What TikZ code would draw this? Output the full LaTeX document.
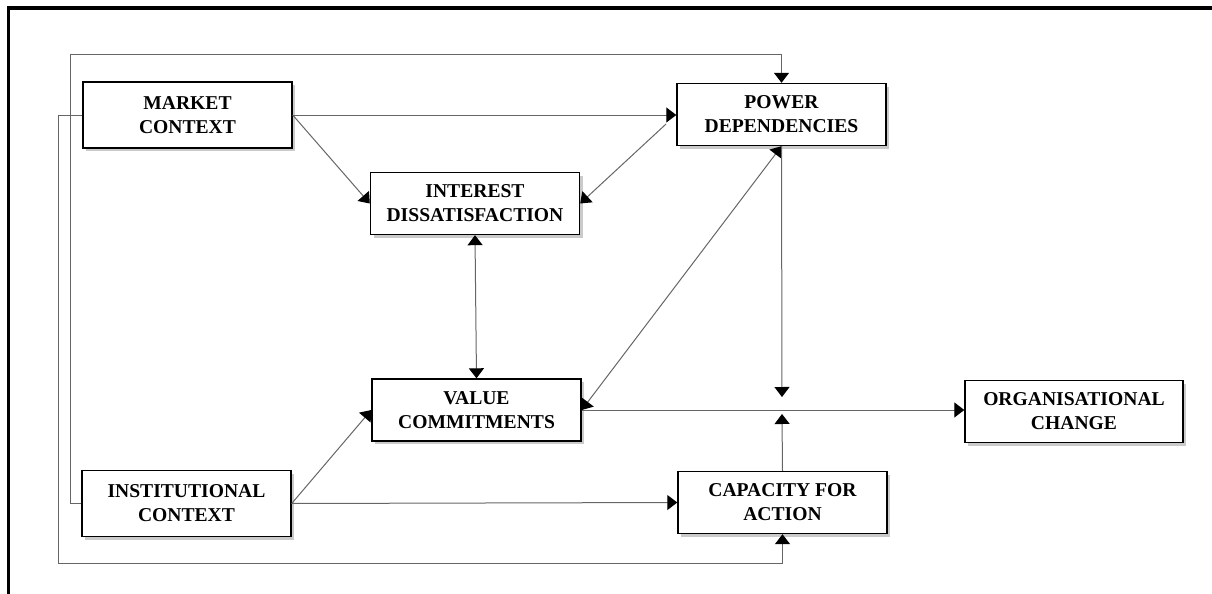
\documentclass[tikz,border=0pt]{standalone}
\usepackage{fontspec}
\setmainfont{Liberation Serif}
\usetikzlibrary{arrows.meta, shadows}
\tikzset{>={Triangle[length=5pt, width=7.5pt, color=black]}, factor/.style={draw, line width=.7pt, fill=white, align=center, minimum width=104.5pt, minimum height=31pt, inner sep=2pt, font=\bfseries\fontsize{9.8}{12}\selectfont, drop shadow={shadow xshift=1.5pt, shadow yshift=-1.5pt, fill=black!35, opacity=.6}}, every edge/.style={draw, ->, line width=.5pt, black!60}}

\begin{document}
\begin{tikzpicture}[x=0.5pt, y=-0.5pt]
            \useasboundingbox (0,0) rectangle (1212,594);
            \draw[line width=1.6pt] (8.5,594) -- (8.5,8) -- (1212,8);

            \node[factor, minimum height=33pt] at (187.5,115) (mkt) {MARKET\\CONTEXT};
            \node[factor] at (475,203.5) (int) {INTEREST\\DISSATISFACTION};
            \node[factor] at (781.5,114.5) (pow) {POWER\\DEPENDENCIES};
            \node[factor] at (476.5,410) (val) {VALUE\\COMMITMENTS};
            \node[factor, minimum height=33pt] at (186.5,503.5) (inst) {INSTITUTIONAL\\CONTEXT};
            \node[factor] at (782.5,502.5) (cap) {CAPACITY FOR\\ACTION};
            \node[factor, minimum width=109pt] at (1074,411.5) (org) {ORGANISATIONAL\\CHANGE};

            \coordinate (jt) at (782,397);
            \coordinate (jb) at (782,414);
            \coordinate (lo) at (58,563);
            \coordinate (hi) at (70,54);

            \draw   (mkt.east) edge (mkt.east -| pow.west)
                    (mkt.east) edge (int.west)
                    (pow.west) edge[shorten <=7pt] (int.east)
                    (int.south) edge[<->] (val.north)
                    (val.east) edge[<->] (pow.south)
                    (pow.south) edge (jt)
                    (cap.north) edge (jb)
                    (val.east) edge (val.east -| org.west)
                    (inst.east) edge (val.west)
                    (inst.east) edge (cap.west);

            \draw[->, line width=.5pt, black!60] (mkt.west) -| (lo) -| (cap.south);
            \draw[->, line width=.5pt, black!60] (inst.west) -| (hi) -| (pow.north);
        \end{tikzpicture}
\end{document}
